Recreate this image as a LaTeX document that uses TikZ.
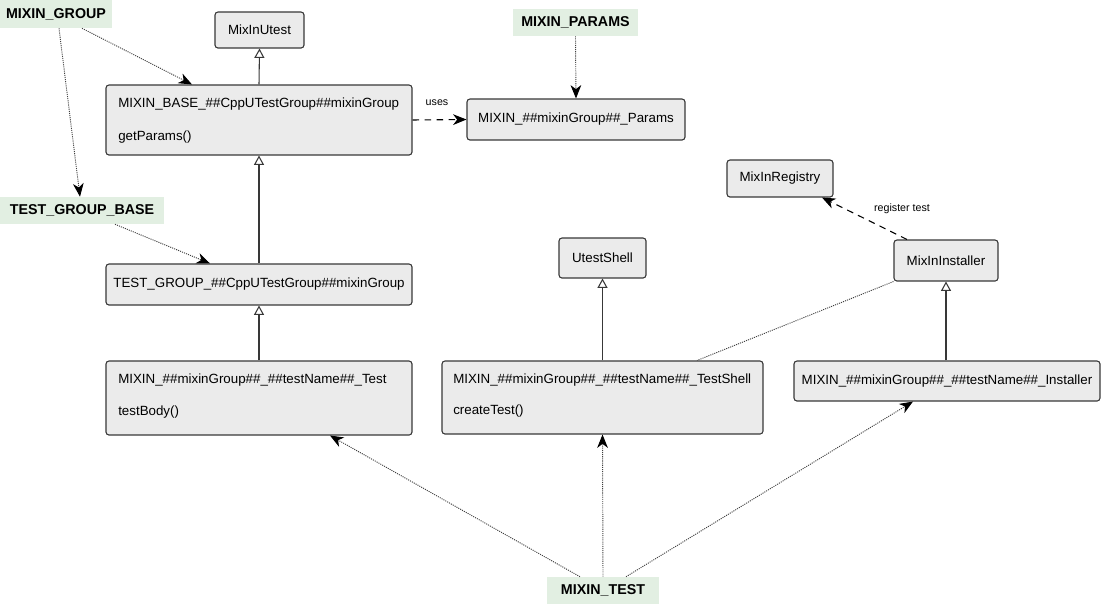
\documentclass[tikz,border=0pt]{standalone}
\usepackage{fontspec}
\setmainfont{Liberation Sans}
\usetikzlibrary{arrows.meta}
\definecolor{boxgray}{HTML}{EBEBEB}
\definecolor{lblgreen}{HTML}{E2EFE2}
\definecolor{edgegray}{HTML}{383838}
\begin{document}
\begin{tikzpicture}[x=0.75pt,y=-0.75pt,
  box/.style 2 args={draw=edgegray, fill=boxgray, rounded corners=2.2pt, line width=0.8pt,
     minimum width=#1*0.75pt, minimum height=#2*0.75pt, inner sep=0pt, font=\fontsize{10}{12}\selectfont},
  lbl/.style 2 args={fill=lblgreen, minimum width=#1*0.75pt, minimum height=#2*0.75pt, inner sep=0pt,
     font=\fontsize{10.7}{13}\selectfont\bfseries},
  txt/.style={anchor=west, inner sep=0pt, font=\fontsize{10}{12}\selectfont},
  small/.style={inner sep=0pt, font=\fontsize{8}{10}\selectfont},
  inh/.style={draw=edgegray, line width=0.8pt, -{Triangle[open, length=7pt, width=7.5pt, fill=white]}},
  dotarrow/.style={draw=black!75, line width=0.7pt, dash pattern=on 0.8pt off 0.8pt,
     -{Stealth[length=10pt, width=8pt, inset=3pt, black]}},
  dotline/.style={draw=black!75, line width=0.7pt, dash pattern=on 0.8pt off 0.8pt},
  dasharrow/.style={draw=black, line width=0.8pt, dash pattern=on 5pt off 4pt,
     -{Stealth[length=10pt, width=8pt, inset=3pt, black]}}]
\useasboundingbox (0,0) rectangle (1101,604);

% green labels
\node[lbl={112}{28}] (mgroup) at (56,14) {MIXIN\_GROUP};
\node[lbl={125}{27}] (mparams) at (575.5,22.5) {MIXIN\_PARAMS};
\node[lbl={164}{27}] (tgbase) at (82,210.5) {TEST\_GROUP\_BASE};
\node[lbl={112}{27}] (mtestl) at (603,590.5) {MIXIN\_TEST};

% class boxes
\node[box={89}{36}] (utest) at (259.5,30) {MixInUtest};
\node[box={306}{70}] (base) at (259,120) {};
\node[txt] (baset1) at (118,104) {MIXIN\_BASE\_\#\#CppUTestGroup\#\#mixinGroup};
\node[txt] (baset2) at (118,137) {getParams()};
\node[box={218}{41}] (params) at (576,119.5) {MIXIN\_\#\#mixinGroup\#\#\_Params};
\node[box={106}{37}] (registry) at (780,178.5) {MixInRegistry};
\node[box={87}{40}] (ushell) at (602.5,258) {UtestShell};
\node[box={104}{41}] (installer) at (946,260.5) {MixInInstaller};
\node[box={306}{41}] (tgroup) at (259,284.5) {TEST\_GROUP\_\#\#CppUTestGroup\#\#mixinGroup};
\node[box={306}{74}] (mtest) at (259,398) {};
\node[txt] (mtestt1) at (118,380) {MIXIN\_\#\#mixinGroup\#\#\_\#\#testName\#\#\_Test};
\node[txt] (mtestt2) at (118,412) {testBody()};
\node[box={321}{73}] (tshell) at (602.5,397.5) {};
\node[txt] (tshellt1) at (453,380) {MIXIN\_\#\#mixinGroup\#\#\_\#\#testName\#\#\_TestShell};
\node[txt] (tshellt2) at (453,411) {createTest()};
\node[box={306}{40}] (minst) at (947,381) {MIXIN\_\#\#mixinGroup\#\#\_\#\#testName\#\#\_Installer};

% inheritance
\draw[inh] (base.north) -- (utest.south);
\draw[inh] (tgroup.north) -- (base.south);
\draw[inh] (mtest.north) -- (tgroup.south);
\draw[inh] (tshell.north) -- (ushell.south);
\draw[inh] (minst.north -| installer.south) -- (installer.south);

% macro usage arrows
\draw[dotarrow] ([shift={(26,0)}]mgroup.south) -- ([shift={(-67,0)}]base.north);
\draw[dotarrow] ([shift={(3,0)}]mgroup.south) -- ([shift={(-2,0)}]tgbase.north);
\draw[dotarrow] (mparams.south) -- (params.north);
\draw[dotarrow] ([shift={(33,0)}]tgbase.south) -- ([shift={(-49,0)}]tgroup.north);
\draw[dotarrow] ([shift={(-23,0)}]mtestl.north) -- ([shift={(71,0)}]mtest.south);
\draw[dotarrow] (mtestl.north) -- (tshell.south);
\draw[dotarrow] ([shift={(23,0)}]mtestl.north) -- ([shift={(-34,0)}]minst.south);

% dependencies
\draw[dasharrow] (base.east) -- (params.west);
\node[small] (uses) at (437,103) {uses};
\draw[dasharrow] ([shift={(-39,0)}]installer.north) -- ([shift={(42,0)}]registry.south);
\node[small] (regtest) at (902,209) {register test};
\draw[dotline] (installer.south west) -- ([shift={(94.5,0)}]tshell.north);
\end{tikzpicture}
\end{document}
